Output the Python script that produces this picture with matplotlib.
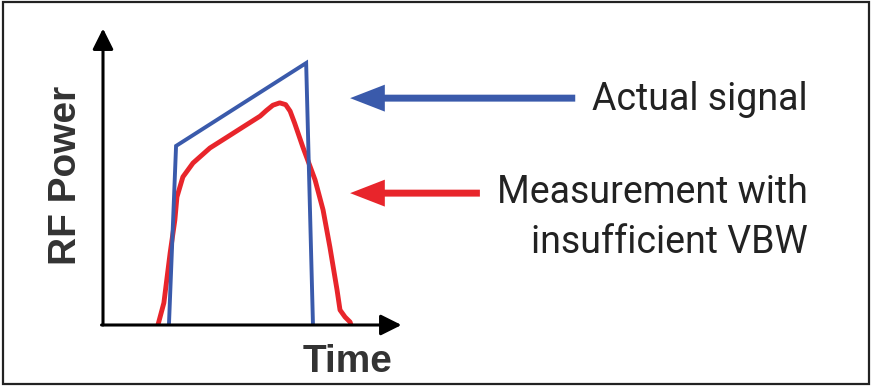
import numpy as np
import matplotlib.pyplot as plt
from matplotlib.patches import Rectangle

W, H = 871, 386

# actual signal (time, power) - abstract units
actual_t = [2.22, 2.46, 6.84, 7.07]
actual_p = [0.0, 6.07, 8.88, 0.0]

# measured with insufficient VBW
meas_t = [1.85, 2.05, 2.26, 2.42, 2.49, 2.69, 3.03, 3.60, 4.18, 4.71, 5.29,
          5.50, 5.72, 5.95, 6.15, 6.30, 6.45, 6.73, 7.14, 7.41, 7.64, 7.88,
          7.98, 8.15, 8.32, 8.35]
meas_p = [0.0, 0.75, 2.44, 3.56, 4.34, 5.02, 5.49, 6.00, 6.37, 6.71, 7.08,
          7.27, 7.45, 7.53, 7.47, 7.25, 6.85, 6.03, 4.92, 3.90, 2.64, 1.19,
          0.51, 0.27, 0.10, 0.0]

labels = ["Actual signal", "Measurement with", "insufficient VBW"]
line_colors = ["#3a5aab", "#e8252b"]

fig = plt.figure(figsize=(W / 100, H / 100), dpi=100)

# plot area: pixels x 103..400, y 30..325
ax = fig.add_axes([103 / W, (H - 325) / H, (400 - 103) / W, (325 - 30) / H])
ax.set_xlim(0, 10)
ax.set_ylim(0, 10)
ax.axis('off')

ax.plot(meas_t, meas_p, color=line_colors[1], lw=3.5, solid_capstyle='round',
        solid_joinstyle='round', zorder=2)
ax.plot(actual_t, actual_p, color=line_colors[0], lw=2.8, solid_joinstyle='miter',
        zorder=3)

# axis arrows
ax_arrow = dict(arrowstyle="-|>,head_length=0.9,head_width=0.45", color="black",
                lw=2.2, shrinkA=0, shrinkB=0, mutation_scale=14)
ax.annotate("", xy=(0, 10.05), xytext=(0, 0), arrowprops=ax_arrow,
            annotation_clip=False)
ax.annotate("", xy=(10.05, 0), xytext=(-0.05, 0), arrowprops=ax_arrow,
            annotation_clip=False)

# pointer arrows
tips = [(8.32, 7.69), (8.32, 4.47)]
tails = [15.9, 12.69]
for (tx, ty), tail, c in zip(tips, tails, line_colors):
    ax.annotate("", xy=(tx, ty), xytext=(tail, ty),
                arrowprops=dict(arrowstyle="simple,head_length=2.5,head_width=1.94,tail_width=0.5",
                                color=c, lw=0, shrinkA=0, shrinkB=0, mutation_scale=10),
                annotation_clip=False)

txt_font = dict(family="Roboto", fontsize=27, color="#222222", ha="right",
                va="baseline")
fig.text(808 / W, 1 - 110 / H, labels[0], **txt_font)
fig.text(808 / W, 1 - 203 / H, labels[1], **txt_font)
fig.text(808 / W, 1 - 253 / H, labels[2], **txt_font)

axis_font = dict(family="Liberation Sans", fontweight="bold", fontsize=28,
                 color="#333333")
fig.text(392 / W, 1 - 372 / H, "Time", ha="right", va="baseline", **axis_font)
fig.text(66 / W, 1 - 175 / H, "RF Power", rotation=90, ha="center", va="center",
         **axis_font)

# frame around whole picture
fig.patches.append(Rectangle((2.5 / W, 2 / H), (W - 5) / W, (H - 4) / H,
                             transform=fig.transFigure, fill=False,
                             edgecolor="#222222", lw=1.6))

fig.savefig("out.png", dpi=100)
